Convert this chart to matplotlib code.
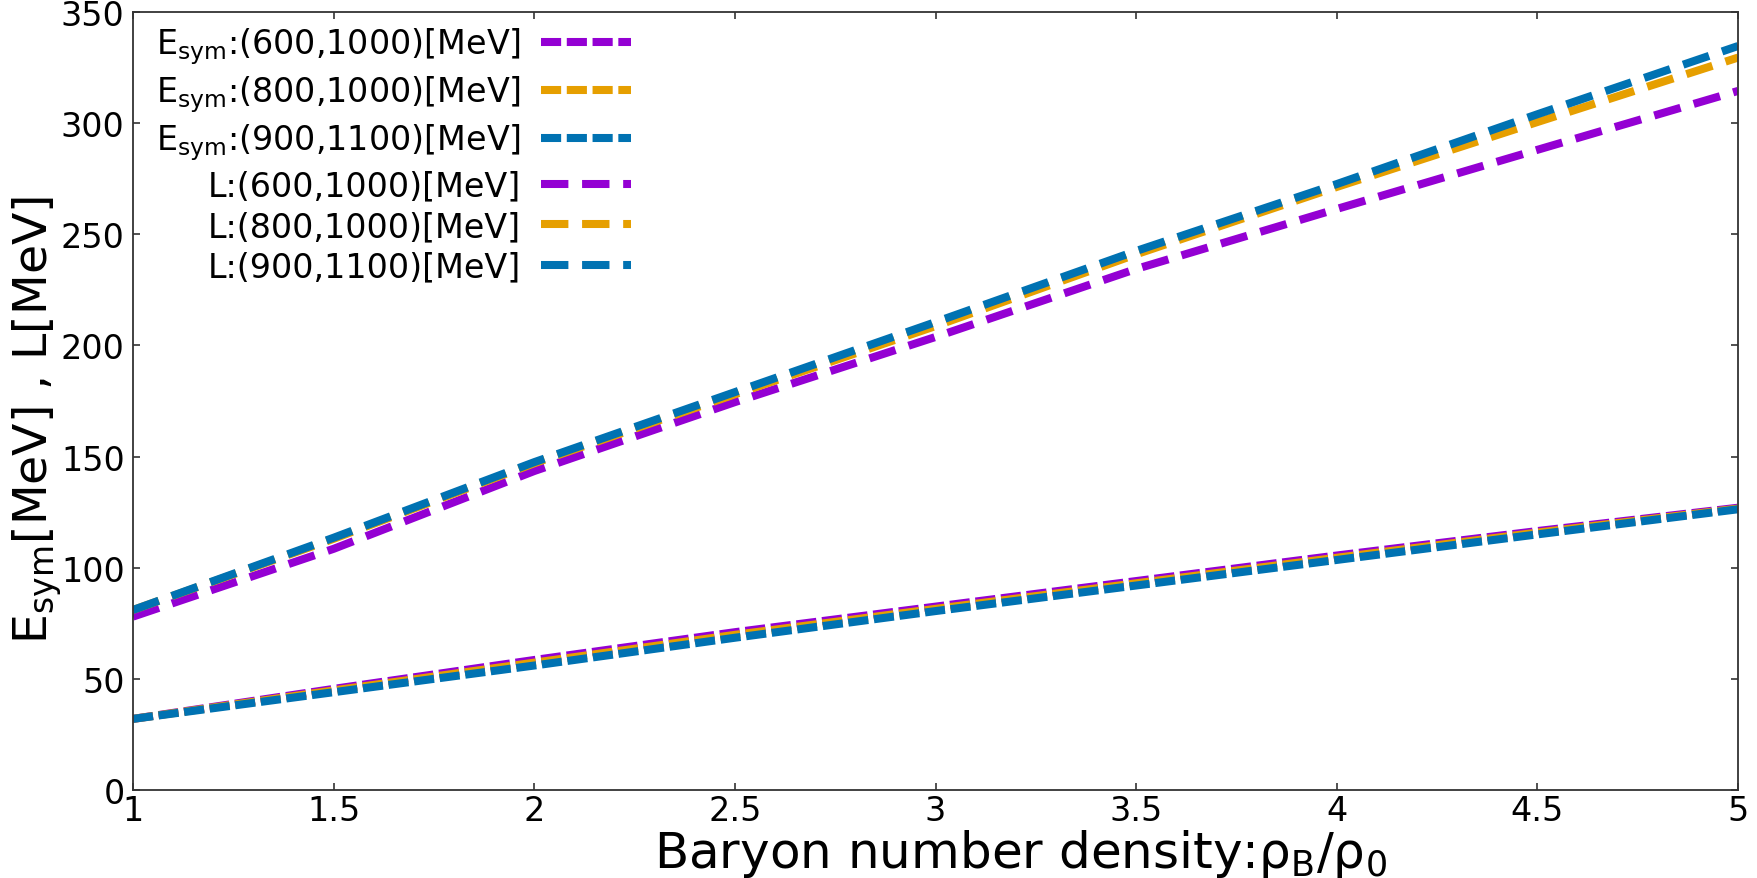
import matplotlib
matplotlib.use("Agg")
import matplotlib.pyplot as plt

plt.rcParams["font.family"] = ["DejaVu Sans"]
plt.rcParams["mathtext.fontset"] = "dejavusans"

# density rho_B / rho_0
density = [1.0, 1.5, 2.0, 2.5, 3.0, 3.5, 4.0, 4.5, 5.0]

# symmetry energy E_sym [MeV]
esym_600_1000 = [32.0, 45.5, 58.5, 71.0, 82.5, 94.0, 105.5, 116.5, 127.0]
esym_800_1000 = [32.0, 44.8, 57.3, 69.8, 81.5, 93.0, 104.5, 115.8, 126.6]
esym_900_1100 = [32.0, 44.0, 56.0, 68.5, 80.5, 92.0, 103.5, 115.0, 126.3]

# slope L [MeV]
l_600_1000 = [78.0, 108.5, 143.5, 174.5, 203.8, 234.4, 261.4, 288.0, 314.5]
l_800_1000 = [81.0, 113.0, 147.0, 178.0, 208.7, 241.0, 271.3, 300.5, 329.5]
l_900_1100 = [81.0, 113.5, 147.5, 179.0, 210.5, 242.5, 272.6, 304.0, 334.7]

series_labels = [
    r"E$_{\rm sym}$:(600,1000)[MeV]",
    r"E$_{\rm sym}$:(800,1000)[MeV]",
    r"E$_{\rm sym}$:(900,1100)[MeV]",
    "L:(600,1000)[MeV]",
    "L:(800,1000)[MeV]",
    "L:(900,1100)[MeV]",
]
x_ticks = [1, 1.5, 2, 2.5, 3, 3.5, 4, 4.5, 5]
x_tick_labels = ["1", "1.5", "2", "2.5", "3", "3.5", "4", "4.5", "5"]
y_ticks = [0, 50, 100, 150, 200, 250, 300, 350]

purple = "#9400D3"
orange = "#E69F00"
blue = "#0072B2"
lw = 5.8
short_dash = (2.5, 0.7)
long_dash = (3.4, 1.7)

fig = plt.figure(figsize=(17.57, 8.79), dpi=100)
ax = fig.add_axes([0.0757, 0.1001, 0.9135, 0.8851])

ax.plot(density, esym_600_1000, color=purple, lw=lw, dashes=short_dash, label=series_labels[0])
ax.plot(density, esym_800_1000, color=orange, lw=lw, dashes=short_dash, label=series_labels[1])
ax.plot(density, esym_900_1100, color=blue, lw=lw, dashes=short_dash, label=series_labels[2])
ax.plot(density, l_600_1000, color=purple, lw=lw, dashes=long_dash, label=series_labels[3])
ax.plot(density, l_800_1000, color=orange, lw=lw, dashes=long_dash, label=series_labels[4])
ax.plot(density, l_900_1100, color=blue, lw=lw, dashes=long_dash, label=series_labels[5])

ax.set_xlim(1, 5)
ax.set_ylim(0, 350)
ax.set_xticks(x_ticks)
ax.set_xticklabels(x_tick_labels)
ax.set_yticks(y_ticks)
ax.tick_params(direction="in", length=5, width=1.2, color="#333333",
               top=True, right=True, labelsize=24)
ax.tick_params(axis="x", pad=3)
ax.tick_params(axis="y", pad=6)
for sp in ax.spines.values():
    sp.set_linewidth(1.3)
    sp.set_color("#333333")

ax.set_xlabel("Baryon number density:ρ$_{\\rm B}$/ρ$_{\\rm 0}$", fontsize=36)
ax.xaxis.set_label_coords(0.553, -0.047)
ax.set_ylabel(r"E$_{\rm sym}$[MeV] , L[MeV]", fontsize=34)
ax.yaxis.set_label_coords(-0.043, 0.477)

leg = ax.legend(loc="upper right", bbox_to_anchor=(0.31, 0.983), markerfirst=False,
                frameon=False, fontsize=24, handlelength=2.7, handletextpad=0.6,
                labelspacing=0.22, borderpad=0, borderaxespad=0)

fig.savefig("out.png", dpi=100)
